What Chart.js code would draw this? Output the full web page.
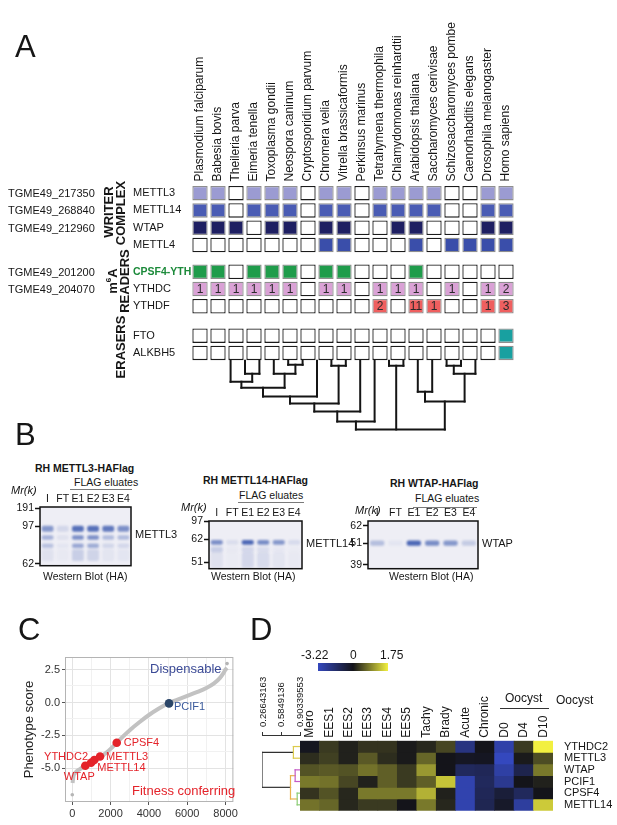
<!DOCTYPE html>
<html>
<head>
<meta charset="utf-8">
<title>m6A machinery in Toxoplasma</title>
<script src="https://cdn.jsdelivr.net/npm/chart.js@4.4.1/dist/chart.umd.min.js"></script>
<style>
  html, body { margin: 0; padding: 0; background: #fff; }
  #fig { position: relative; width: 617px; height: 825px; overflow: hidden;
         font-family: 'Liberation Sans', Arial, sans-serif; color: #161616; }
  #fig canvas { position: absolute; }
  .lbl { position: absolute; white-space: nowrap; line-height: 1; font-size: 11px;
         transform: translateY(-50%); z-index: 2; }
  .rot { transform: translate(-50%, -50%) rotate(-90deg); font-weight: bold; font-size: 13px; }
  .letter { font-size: 31px; }
  .rule { position: absolute; height: 0; border-top: 1px solid #7a7a7a; z-index: 2; }
</style>
</head>
<body>
<div id="fig"></div>
<script>
// ================================================================
//  DATA
// ================================================================
// --- A: homologues of the m6A machinery per species (0 = absent)
const species = ['Plasmodium falciparum', 'Babesia bovis', 'Theileria parva', 'Eimeria tenella',
  'Toxoplasma gondii', 'Neospora caninum', 'Cryptosporidium parvum', 'Chromera velia',
  'Vitrella brassicaformis', 'Perkinsus marinus', 'Tetrahymena thermophila',
  'Chlamydomonas reinhardtii', 'Arabidopsis thaliana', 'Saccharomyces cerivisae',
  'Schizosaccharomyces pombe', 'Caenorhabditis elegans', 'Drosophila melanogaster', 'Homo sapiens'];
const proteins = ['METTL3', 'METTL14', 'WTAP', 'METTL4', 'CPSF4-YTH', 'YTHDC', 'YTHDF', 'FTO', 'ALKBH5'];
const proteinGroup = [0, 0, 0, 0, 1, 1, 1, 2, 2];   // writer / readers / erasers
const geneIds = ['TGME49_217350', 'TGME49_268840', 'TGME49_212960', '', 'TGME49_201200', 'TGME49_204070', '', '', ''];
const homMETTL3  = [1,1,0,1,1,1,0,1,1,0,1,1,1,1,0,0,1,1];
const homMETTL14 = [1,1,0,1,1,1,0,1,1,0,1,1,1,1,0,0,1,1];
const homWTAP    = [1,1,1,0,1,1,0,1,1,0,0,1,1,0,0,0,1,1];
const homMETTL4  = [0,0,0,0,0,0,0,1,1,0,0,0,1,0,1,1,1,1];
const homCPSF4   = [1,1,0,1,1,1,0,1,1,0,0,0,1,0,0,0,0,0];
const homYTHDC   = [1,1,1,1,1,1,0,1,1,0,1,1,1,0,1,0,1,2];
const homYTHDF   = [0,0,0,0,0,0,0,0,0,0,2,0,11,1,0,0,1,3];
const homFTO     = [0,0,0,0,0,0,0,0,0,0,0,0,0,0,0,0,0,1];
const homALKBH5  = [0,0,0,0,0,0,0,0,0,0,0,0,0,0,0,0,0,1];
// species tree: [children, depth]; leaves 0..17, merged nodes get ids 18, 19, ...
const treeMerges = [[[1,2],13], [[0,18],21], [[4,5],4], [[3,20],13], [[19,21],27], [[22,6],36],
  [[7,8],5], [[23,24],43], [[25,9],51], [[26,10],61], [[11,12],5], [[13,14],31], [[15,16],5],
  [[30,17],13], [[29,31],41], [[27,28,32],69]];

// --- B: anti-HA western blots of FLAG eluates (band = migration range, % of blot height)
const lanes = ['I', 'FT', 'E1', 'E2', 'E3', 'E4'];
const b1Markers = [191, 97, 62];  const b1MarkerPos = [2, 33, 97];
const b1Bands = [[32,42], [48,56], [62,70], [72,92]];
const b1Alpha = [[0.55,0.14,0.8,0.8,0.75,0.6], [0.38,0.08,0.6,0.6,0.32,0.32],
                 [0.28,0.05,0.45,0.42,0.15,0.14], [0.08,0.03,0.2,0.16,0.06,0.05]];
const b2Markers = [97, 62, 51];   const b2MarkerPos = [0, 39, 86];
const b2Bands = [[40,50], [54,66], [66,98]];
const b2Alpha = [[0.6,0.1,0.85,0.62,0.55,0.12], [0.2,0.03,0.14,0.1,0.04,0.02], [0.08,0.02,0.14,0.12,0.06,0.03]];
const b3Markers = [62, 51, 39];   const b3MarkerPos = [10, 47, 92];
const b3Bands = [[41,52]];
const b3Alpha = [[0.3,0.05,0.85,0.62,0.55,0.22]];

// --- C: genome-wide CRISPR phenotype scores (ranked)
const curveRank  = [15, 60, 150, 400, 700, 1000, 1200, 1500, 1800, 2000, 2300, 2600, 3000, 3500,
                    4000, 4500, 5000, 5500, 6000, 6500, 7000, 7400, 7700, 7900, 8000, 8080];
const curveScore = [-6.1, -5.6, -5.35, -5.05, -4.8, -4.58, -4.38, -4.12, -3.78, -3.52, -3.08, -2.65, -2.1, -1.5,
                    -0.95, -0.48, -0.07, 0.22, 0.5, 0.78, 1.1, 1.45, 1.85, 2.25, 2.5, 2.62];
const tailRank  = [0, 8080];
const tailScore = [-7.0, 2.95];
const hitGenes = ['WTAP', 'YTHDC2', 'METTL14', 'METTL3', 'CPSF4', 'PCIF1'];
const hitRank  = [680, 980, 1150, 1450, 2320, 5050];
const hitScore = [-4.8, -4.57, -4.37, -4.1, -3.05, -0.07];
const cTicksX = [0, 2000, 4000, 6000, 8000];
const cTicksY = [-5, -2.5, 0, 2.5];

// --- D: expression across life-cycle stages (z-scores)
const hmSamples = ['Mero', 'EES1', 'EES2', 'EES3', 'EES4', 'EES5', 'Tachy', 'Brady', 'Acute', 'Chronic', 'D0', 'D4', 'D10'];
const hmGenes = ['YTHDC2', 'METTL3', 'WTAP', 'PCIF1', 'CPSF4', 'METTL14'];
const hmYTHDC2  = [-0.1, 0.3, 0.1, 0.25, 0.25, 0.05, 0.15, 0.4, -2.0, 0.0, -2.8, 0.3, 1.75];
const hmMETTL3  = [0.2, 0.35, 0.1, 0.55, 0.2, 0.05, 0.65, 0.0, -0.2, -0.15, -3.22, 0.05, 0.45];
const hmWTAP    = [0.5, 0.55, 0.5, 0.75, 0.6, 0.3, 1.05, 0.0, -1.3, -1.2, -2.7, -1.0, 0.8];
const hmPCIF1   = [0.8, 0.75, 0.4, 0.1, 0.6, 0.3, 0.6, 1.4, -2.9, -1.3, -2.3, 0.0, 0.1];
const hmCPSF4   = [0.25, 0.5, 0.15, 0.8, 0.8, 0.8, 1.25, 0.1, -2.9, -1.2, -0.6, -1.3, 0.0];
const hmMETTL14 = [0.75, 0.65, 0.15, 0.3, 0.3, 0.0, 0.8, 0.15, -2.9, -1.1, -0.3, -2.6, 1.45];
const hmMin = -3.22, hmMax = 1.75;
const dTicks = [0.26643163, 0.5849136, 0.90339553];
// gene tree: [a, b, similarity]; rows 0..5, merged nodes 6, 7, ...
const dMerges = [[0,1,0.79], [2,3,0.82], [4,5,0.855], [7,8,0.74], [6,9,0.25]];

// ================================================================
//  HELPERS
// ================================================================
Chart.defaults.font.family = "'Liberation Sans', Arial, sans-serif";
Chart.defaults.font.size = 11;
Chart.defaults.color = '#161616';
Chart.defaults.animation = false;
Chart.defaults.events = [];
Chart.defaults.plugins.legend.display = false;
Chart.defaults.plugins.tooltip.enabled = false;

const fig = document.getElementById('fig');
function canvasAt(x, y, w, h) {
  const c = document.createElement('canvas');
  c.width = w; c.height = h;
  c.style.left = x + 'px'; c.style.top = y + 'px';
  c.style.width = w + 'px'; c.style.height = h + 'px';
  fig.appendChild(c);
  return c;
}
function text(str, x, y, css, cls, html) {
  const d = document.createElement('div');
  d.className = 'lbl' + (cls ? ' ' + cls : '');
  if (html) d.innerHTML = str; else d.textContent = str;
  d.style.left = x + 'px'; d.style.top = y + 'px';
  Object.assign(d.style, css || {});
  fig.appendChild(d);
  return d;
}
function rule(x, y, w, color) {
  const d = document.createElement('div');
  d.className = 'rule';
  d.style.left = x + 'px'; d.style.top = y + 'px'; d.style.width = w + 'px';
  if (color) d.style.borderTopColor = color;
  fig.appendChild(d);
}
function lineSeg(x1, y1, x2, y2, color, width, xAxisID) {
  return { type: 'line', xAxisID, yAxisID: 'y', data: [{x: x1, y: y1}, {x: x2, y: y2}],
           borderColor: color, borderWidth: width, pointRadius: 0, borderCapStyle: 'square', fill: false };
}
// rotated labels on a top axis sit one line height left of the tick; push them back
const centreShift = size => size * 1.2;

// ================================================================
//  PANEL A
// ================================================================
const homology = [homMETTL3, homMETTL14, homWTAP, homMETTL4, homCPSF4, homYTHDC, homYTHDF, homFTO, homALKBH5];
const rowColors = ['#9b9bd2', '#4a5cb4', '#1e1f62', '#3a4eaa', '#1f9c4b', '#daa2d6', '#ef5f5f', '#18a0a0', '#18a0a0'];
const countRows = [5, 6];
const GROUP_GAP = [0, 0.55, 0.7];
const PX_PER_ROW = 17.3;
const rowY = [];
(() => { let y = 0; proteinGroup.forEach((g, i) => { if (i && g !== proteinGroup[i - 1]) y += GROUP_GAP[g]; rowY.push(y); y += 1; }); })();
const leafBase = rowY[rowY.length - 1] + 0.45;

const treeSets = [];
const nodeX = species.map((_, i) => i), nodeY = species.map(() => leafBase);
treeMerges.forEach(([kids, depth]) => {
  const y = leafBase + depth / PX_PER_ROW;
  const xs = kids.map(k => nodeX[k]);
  const lo = Math.min(...xs), hi = Math.max(...xs);
  treeSets.push(lineSeg(lo, y, hi, y, '#151515', 2, 'xd'));
  kids.forEach(k => treeSets.push(lineSeg(nodeX[k], nodeY[k], nodeX[k], y, '#151515', 2, 'xd')));
  nodeX.push((lo + hi) / 2); nodeY.push(y);
});

const cellSets = homology.map((row, r) => ({
  type: 'bar',
  data: row.map(() => [rowY[r] - 0.42, rowY[r] + 0.42]),
  backgroundColor: row.map(n => n ? rowColors[r] : '#ffffff'),
  borderColor: row.map(n => n ? '#8e8e8e' : '#1b1b1b'),
  borderWidth: 1.3, borderSkipped: false, grouped: false,
  categoryPercentage: 1, barPercentage: 0.85
}));

const cellCounts = {
  id: 'cellCounts',
  afterDatasetsDraw(chart) {
    const ctx = chart.ctx;
    ctx.save();
    ctx.font = "12px 'Liberation Sans', Arial, sans-serif";
    ctx.fillStyle = '#2b2b2b'; ctx.textAlign = 'center'; ctx.textBaseline = 'middle';
    countRows.forEach(r => {
      chart.getDatasetMeta(r).data.forEach((bar, i) => {
        const n = homology[r][i];
        if (n) { const p = bar.getCenterPoint(); ctx.fillText(String(n), p.x, p.y + 0.5); }
      });
    });
    ctx.restore();
  }
};

const chartA = new Chart(canvasAt(0, 0, 617, 445), {
  type: 'bar',
  data: { labels: species, datasets: [...cellSets, ...treeSets] },
  options: {
    responsive: false,
    layout: { padding: { top: 4, left: 133, right: 102, bottom: 6.2 } },
    scales: {
      x: { type: 'category', position: 'top', offset: true,
           grid: { display: false, drawTicks: false }, border: { display: false },
           ticks: { autoSkip: false, minRotation: 90, maxRotation: 90, padding: 3, font: { size: 12 },
                    labelOffset: centreShift(12) },
           afterFit: s => { s.height = 180.5; } },
      xd: { type: 'linear', display: false, min: -0.5, max: species.length - 0.5 },
      y: { type: 'linear', position: 'left', reverse: true, min: -0.5, max: 14.2,
           grid: { display: false }, border: { display: false },
           afterBuildTicks: s => { s.ticks = rowY.map(v => ({ value: v })); },
           afterFit: s => { s.width = 58; },
           ticks: { autoSkip: false, crossAlign: 'far', padding: 0,
                    callback: (v, i) => proteins[i],
                    color: c => c.index === 4 ? '#1c8a3a' : '#161616',
                    font: c => (c.index === 4 ? { size: 10.5, weight: 'bold' } : { size: 11, weight: 'normal' }) } }
    }
  },
  plugins: [cellCounts]
});

geneIds.forEach((g, i) => { if (g) text(g, 8, chartA.scales.y.getPixelForValue(rowY[i])); });
text('WRITER', 108, 212, {}, 'rot');
text('COMPLEX', 120, 213, {}, 'rot');
text('m<sup style="font-size:8px">6</sup>A', 112, 281, {}, 'rot', true);
text('READERS', 124, 281, {}, 'rot');
text('ERASERS', 120, 347, {}, 'rot');
text('A', 15, 46, {}, 'letter');

// ================================================================
//  PANEL B
// ================================================================
const blotFrame = {
  id: 'blotFrame',
  beforeDatasetsDraw(chart) {
    const { ctx, chartArea: a } = chart;
    ctx.fillStyle = '#eeeef5';
    ctx.fillRect(a.left, a.top, a.width, a.height);
    ctx.filter = 'blur(0.9px)';
  },
  afterDatasetsDraw(chart) {
    const { ctx, chartArea: a } = chart;
    ctx.filter = 'none';
    ctx.save();
    ctx.strokeStyle = '#111'; ctx.lineWidth = 1.5;
    ctx.strokeRect(a.left, a.top, a.width, a.height);
    ctx.restore();
  }
};
function blot(x, y, w, h, markers, markerPos, bands, alphas) {
  return new Chart(canvasAt(x, y, w, h), {
    type: 'bar',
    data: { labels: lanes, datasets: bands.map((b, k) => ({
      data: lanes.map(() => b),
      backgroundColor: alphas[k].map(a => `rgba(48,80,170,${a})`),
      borderWidth: 0, borderRadius: 2, borderSkipped: false, grouped: false,
      categoryPercentage: 1, barPercentage: 0.78, inflateAmount: 0
    })) },
    options: {
      responsive: false,
      layout: { padding: { right: 3, bottom: 6 } },
      scales: {
        x: { position: 'top', grid: { display: false, drawTicks: false }, border: { display: false },
             ticks: { autoSkip: false, maxRotation: 0, padding: 2, font: { size: 10.5 } },
             afterFit: s => { s.height = 14; } },
        y: { reverse: true, min: 0, max: 100,
             grid: { drawOnChartArea: false, tickLength: 5, tickColor: '#111', tickWidth: 1.5 },
             border: { display: false },
             afterBuildTicks: s => { s.ticks = markerPos.map(v => ({ value: v })); },
             afterFit: s => { s.width = 35; },
             ticks: { autoSkip: false, padding: 1, font: { size: 10.5 }, callback: (v, i) => markers[i] } }
      }
    },
    plugins: [blotFrame]
  });
}
blot(5, 493, 129, 80, b1Markers, b1MarkerPos, b1Bands, b1Alpha);
blot(174, 507, 131, 69, b2Markers, b2MarkerPos, b2Bands, b2Alpha);
blot(333, 507, 148, 69, b3Markers, b3MarkerPos, b3Bands, b3Alpha);

text('B', 15, 434, {}, 'letter');
const bTitle = { fontWeight: 'bold', fontSize: '10.5px' };
text('RH METTL3-HAFlag', 35, 468, bTitle);
text('FLAG eluates', 74, 482, { fontSize: '10.5px' });   rule(70, 489, 62);
text('Mr(k)', 11, 490, { fontStyle: 'italic' });
text('METTL3', 135, 534);
text('Western Blot (HA)', 43, 576, { fontSize: '10.5px' });

text('RH METTL14-HAFlag', 203, 480, bTitle);
text('FLAG eluates', 239, 495, { fontSize: '10.5px' });  rule(238, 502, 66);
text('Mr(k)', 181, 507, { fontStyle: 'italic' });
text('METTL14', 306, 543);
text('Western Blot (HA)', 211, 576, { fontSize: '10.5px' });

text('RH WTAP-HAFlag', 390, 483, bTitle);
text('FLAG eluates', 415, 498, { fontSize: '10.5px' });  rule(413, 507, 64);
text('Mr(k)', 355, 510, { fontStyle: 'italic' });
text('WTAP', 482, 543);
text('Western Blot (HA)', 389, 576, { fontSize: '10.5px' });

// ================================================================
//  PANEL C
// ================================================================
const hitPlace = { WTAP: [-6, 11, 'center'], YTHDC2: [-3, -6, 'right'], METTL14: [3, 8, 'left'],
                   METTL3: [6, 0, 'left'], CPSF4: [7, 0, 'left'], PCIF1: [5, 4, 'left'] };
const hitLabels = {
  id: 'hitLabels',
  afterDatasetsDraw(chart) {
    const { ctx, scales: { x, y } } = chart;
    ctx.save();
    ctx.font = "11px 'Liberation Sans', Arial, sans-serif";
    ctx.textBaseline = 'middle';
    hitGenes.forEach((g, i) => {
      const p = hitPlace[g];
      ctx.fillStyle = g === 'PCIF1' ? '#3a5a9c' : '#e4232a';
      ctx.textAlign = p[2];
      ctx.fillText(g, x.getPixelForValue(hitRank[i]) + p[0], y.getPixelForValue(hitScore[i]) + p[1]);
    });
    ctx.restore();
  }
};
const panelBorder = {
  id: 'panelBorder',
  afterDatasetsDraw(chart) {
    const { ctx, chartArea: a } = chart;
    ctx.save(); ctx.strokeStyle = '#b4b4b4'; ctx.lineWidth = 1;
    ctx.strokeRect(a.left + 0.5, a.top + 0.5, a.width - 1, a.height - 1);
    ctx.restore();
  }
};
const withMinor = (major) => {
  const t = [];
  major.forEach((v, i) => { if (i) t.push((v + major[i - 1]) / 2); t.push(v); });
  return t;
};
const isMajor = (list, v) => list.some(m => Math.abs(m - v) < 1e-9);
new Chart(canvasAt(5, 648, 235, 177), {
  type: 'scatter',
  data: { datasets: [
    { data: hitRank.map((x, i) => ({ x, y: hitScore[i] })), pointRadius: 4.3, borderWidth: 0,
      backgroundColor: hitGenes.map(g => g === 'PCIF1' ? '#2b4668' : '#e4232a'), order: 1 },
    { data: tailRank.map((x, i) => ({ x, y: tailScore[i] })), pointRadius: 1.8, borderWidth: 0,
      backgroundColor: '#b5b5b5', order: 2 },
    { type: 'line', data: curveRank.map((x, i) => ({ x, y: curveScore[i] })), borderColor: '#c2c2c2',
      borderWidth: 4, pointRadius: 0, cubicInterpolationMode: 'monotone', order: 3 }
  ] },
  options: {
    responsive: false,
    layout: { padding: { top: 9, right: 5 } },
    scales: {
      x: { type: 'linear', min: -380, max: 8410, border: { display: false },
           afterBuildTicks: s => { s.ticks = withMinor(cTicksX).map(v => ({ value: v })); },
           afterFit: s => { s.height = 23; },
           grid: { color: c => isMajor(cTicksX, c.tick.value) ? '#e3e3e3' : '#f1f1f1', tickLength: 3,
                   tickColor: c => isMajor(cTicksX, c.tick.value) ? '#555' : 'rgba(0,0,0,0)' },
           ticks: { padding: 2, color: '#333', minRotation: 0, maxRotation: 0, autoSkip: false,
                    callback: v => isMajor(cTicksX, v) ? String(v) : '' } },
      y: { type: 'linear', min: -7.55, max: 3.45, border: { display: false },
           afterBuildTicks: s => { s.ticks = withMinor(cTicksY).map(v => ({ value: v })); },
           afterFit: s => { s.width = 60; },
           grid: { color: c => isMajor(cTicksY, c.tick.value) ? '#e3e3e3' : '#f1f1f1', tickLength: 3,
                   tickColor: c => isMajor(cTicksY, c.tick.value) ? '#555' : 'rgba(0,0,0,0)' },
           ticks: { padding: 2, color: '#333', autoSkip: false,
                    callback: v => isMajor(cTicksY, v) ? v.toFixed(1) : '' },
           title: { display: true, text: 'Phenotype score', color: '#1e1e1e', font: { size: 13 },
                    padding: { top: 17, bottom: 0 } } }
    }
  },
  plugins: [panelBorder, hitLabels]
});
text('C', 18, 629, {}, 'letter');
text('Dispensable', 150, 668, { fontSize: '13px', color: '#3b4a96' });
text('Fitness conferring', 132, 790, { fontSize: '13px', color: '#e4232a' });

// ================================================================
//  PANEL D
// ================================================================
function heatColor(v) {
  const mid = [20, 20, 26], lo = [52, 72, 190], hi = [242, 240, 64];
  const t = v < 0 ? Math.min(1, v / hmMin) : Math.min(1, v / hmMax);
  const end = v < 0 ? lo : hi;
  return 'rgb(' + mid.map((m, i) => Math.round(m + (end[i] - m) * t)).join(',') + ')';
}
const hmRows = [hmYTHDC2, hmMETTL3, hmWTAP, hmPCIF1, hmCPSF4, hmMETTL14];

// gene dendrogram
const dColors = ['#dccb4c', '#c45ac6', '#8ccd76', '#e9b24c', '#303030'];
const dNodeX = hmGenes.map(() => dTicks[dTicks.length - 1]), dNodeY = hmGenes.map((_, i) => i);
const dSets = [];
dMerges.forEach(([a, b, s], k) => {
  const col = dColors[k];
  dSets.push(lineSeg(s, dNodeY[a], s, dNodeY[b], col, 1.2, 'x'));
  dSets.push(lineSeg(s, dNodeY[a], dNodeX[a], dNodeY[a], col, 1.2, 'x'));
  dSets.push(lineSeg(s, dNodeY[b], dNodeX[b], dNodeY[b], col, 1.2, 'x'));
  dNodeX.push(s); dNodeY.push((dNodeY[a] + dNodeY[b]) / 2);
});
new Chart(canvasAt(240, 640, 65, 185), {
  type: 'scatter',
  data: { datasets: dSets },
  options: {
    responsive: false,
    layout: { padding: { left: 22, right: 3, bottom: 14 } },
    scales: {
      x: { type: 'linear', position: 'top', min: 0.25, max: dTicks[dTicks.length - 1],
           afterBuildTicks: s => { s.ticks = dTicks.map(v => ({ value: v })); },
           afterFit: s => { s.height = 95; },
           grid: { drawOnChartArea: false, tickLength: 3, tickColor: '#333' },
           border: { display: true, color: '#333', width: 1 },
           ticks: { autoSkip: false, minRotation: 90, maxRotation: 90, padding: 5, font: { size: 9.5 },
                    labelOffset: centreShift(9.5), callback: (v, i) => String(dTicks[i]) } },
      y: { type: 'linear', display: false, reverse: true, min: -0.99, max: 5.53 }
    }
  }
});

new Chart(canvasAt(290, 640, 327, 185), {
  type: 'bar',
  data: { labels: hmSamples, datasets: hmRows.map((vals, r) => ({
    data: vals.map(() => [r - 0.5, r + 0.5]),
    backgroundColor: vals.map(heatColor),
    borderWidth: 0, grouped: false, categoryPercentage: 1, barPercentage: 1
  })) },
  options: {
    responsive: false,
    layout: { padding: { left: 10, bottom: 14.3 } },
    scales: {
      x: { position: 'top', grid: { display: false, drawTicks: false }, border: { display: false },
           ticks: { autoSkip: false, minRotation: 90, maxRotation: 90, padding: 3, font: { size: 12 },
                    labelOffset: centreShift(12) },
           afterFit: s => { s.height = 100.7; } },
      y: { position: 'right', reverse: true, min: -0.5, max: hmGenes.length - 0.5,
           grid: { display: false }, border: { display: false },
           afterBuildTicks: s => { s.ticks = hmGenes.map((_, i) => ({ value: i })); },
           afterFit: s => { s.width = 64; },
           ticks: { autoSkip: false, padding: 3, font: { size: 11 }, callback: (v, i) => hmGenes[i] } }
    }
  }
});

// colour key
const key = document.createElement('div');
key.style.cssText = 'position:absolute;left:318px;top:663px;width:70px;height:8px;z-index:2;' +
  'background:linear-gradient(90deg,' + heatColor(hmMin) + ',' + heatColor(hmMin / 2) + ' 25%,' +
  heatColor(0) + ' 50%,' + heatColor(hmMax / 2) + ' 75%,' + heatColor(hmMax) + ')';
fig.appendChild(key);
text(String(hmMin), 301, 655, { fontSize: '12px' });
text('0', 350, 655, { fontSize: '12px' });
text(String(hmMax), 380, 655, { fontSize: '12px' });
text('Oocyst', 505, 698, { fontSize: '12px' });
rule(500, 708, 49, '#333');
text('Oocyst', 556, 700, { fontSize: '12px' });
text('D', 250, 629, {}, 'letter');
</script>
</body>
</html>
